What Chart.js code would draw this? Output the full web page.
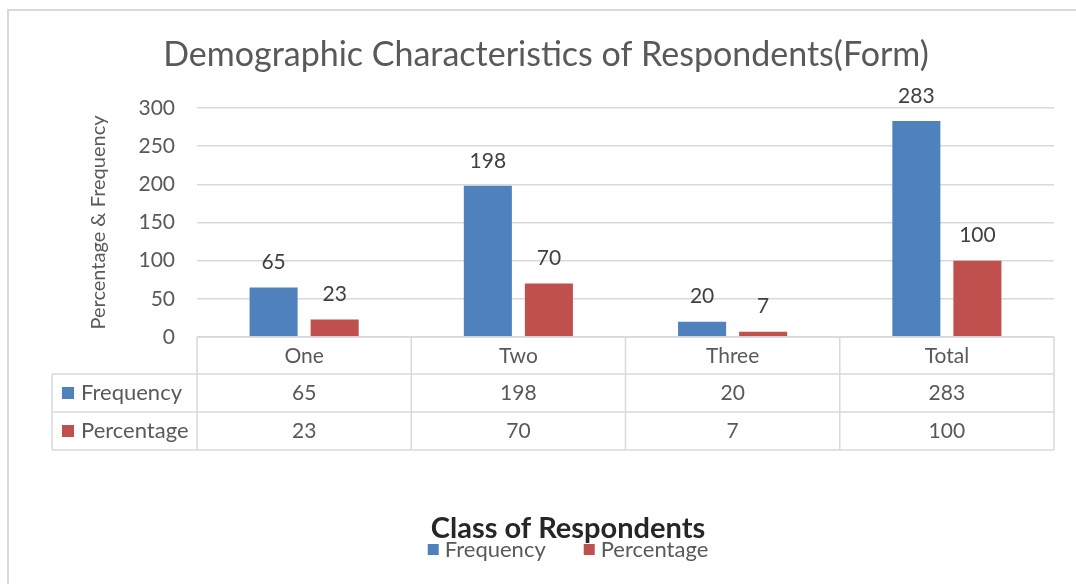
<!DOCTYPE html>
<html lang="en">
<head>
  <meta charset="UTF-8">
  <title>Demographic Characteristics of Respondents(Form)</title>
  <script src="https://cdn.jsdelivr.net/npm/chart.js"></script>
  <style>
    html, body { margin: 0; padding: 0; background: #fff; }
    canvas { display: block; }
  </style>
</head>
<body>

<canvas id="grafico" width="1076" height="584"></canvas>

<script>
  const categories = ["One", "Two", "Three", "Total"];
  const frequency = [65, 198, 20, 283];
  const percentage = [23, 70, 7, 100];
  const yTicks = [0, 50, 100, 150, 200, 250, 300];
  const chartTitle = "Demographic Characteristics of Respondents(Form)";
  const xTitle = "Class of Respondents";

  const fontFamily = "Lato, 'Open Sans', sans-serif";
  const textColor = "#595959";
  const lineColor = "#d9d9d9";

  // marco gris alrededor del grafico
  const marco = {
    id: "marco",
    beforeDraw(chart) {
      const ctx = chart.ctx;
      ctx.save();
      ctx.fillStyle = "#fff";
      ctx.fillRect(0, 0, chart.width, chart.height);
      ctx.strokeStyle = lineColor;
      ctx.lineWidth = 2;
      ctx.strokeRect(8, 10, chart.width + 20, chart.height + 20);
      ctx.restore();
    }
  };

  // valores encima de cada barra
  const etiquetas = {
    id: "etiquetas",
    afterDatasetsDraw(chart) {
      const ctx = chart.ctx;
      ctx.save();
      ctx.font = "21px " + fontFamily;
      ctx.fillStyle = "#404040";
      ctx.textAlign = "center";
      ctx.textBaseline = "middle";
      chart.data.datasets.forEach((ds, i) => {
        chart.getDatasetMeta(i).data.forEach((bar, j) => {
          ctx.fillText(ds.data[j], bar.x, bar.y - 25);
        });
      });
      ctx.restore();
    }
  };

  // tabla de datos debajo del eje x
  const tabla = {
    id: "tabla",
    afterDraw(chart) {
      const { ctx, chartArea, scales: { x } } = chart;
      const top = chartArea.bottom;
      const rows = [top, top + 37, top + 75, top + 113];
      const left = 52;

      const cols = [chartArea.left];
      for (let i = 0; i < categories.length - 1; i++) {
        cols.push((x.getPixelForValue(i) + x.getPixelForValue(i + 1)) / 2);
      }
      cols.push(chartArea.right);

      ctx.save();
      ctx.strokeStyle = lineColor;
      ctx.lineWidth = 1.5;
      ctx.beginPath();
      ctx.moveTo(chartArea.left, rows[0]);
      ctx.lineTo(chartArea.right, rows[0]);
      for (let r = 1; r < rows.length; r++) {
        ctx.moveTo(left, rows[r]);
        ctx.lineTo(chartArea.right, rows[r]);
      }
      ctx.moveTo(left, rows[1]);
      ctx.lineTo(left, rows[3]);
      cols.forEach(cx => {
        ctx.moveTo(cx, rows[0]);
        ctx.lineTo(cx, rows[3]);
      });
      ctx.stroke();

      ctx.textBaseline = "middle";
      chart.data.datasets.forEach((ds, i) => {
        const cy = (rows[i + 1] + rows[i + 2]) / 2;
        ctx.fillStyle = ds.backgroundColor;
        ctx.fillRect(left + 10, cy - 6, 12, 12);
        ctx.fillStyle = textColor;
        ctx.textAlign = "left";
        ctx.font = "22px " + fontFamily;
        ctx.fillText(ds.label, left + 29, cy);
        ctx.font = "21px " + fontFamily;
        ctx.textAlign = "center";
        ds.data.forEach((v, j) => {
          ctx.fillText(v, x.getPixelForValue(j), cy);
        });
      });
      ctx.restore();
    }
  };

  // titulos y leyenda, centrados en el marco como en Excel
  const textos = {
    id: "textos",
    afterDraw(chart) {
      const ctx = chart.ctx;
      ctx.save();
      ctx.textBaseline = "middle";
      ctx.textAlign = "center";
      ctx.font = "34px " + fontFamily;
      ctx.fillStyle = textColor;
      ctx.fillText(chartTitle, 546, 55);

      const centerX = 568;
      ctx.font = "bold 29px " + fontFamily;
      ctx.fillStyle = "#262626";
      ctx.fillText(xTitle, centerX, 529);

      ctx.font = "22px " + fontFamily;
      const items = chart.data.datasets.map(ds => ({ ds, w: ctx.measureText(ds.label).width }));
      const total = items.reduce((s, it) => s + 17 + it.w, 0) + 38 * (items.length - 1);
      let cx = centerX - total / 2;
      ctx.textAlign = "left";
      items.forEach(it => {
        ctx.fillStyle = it.ds.backgroundColor;
        ctx.fillRect(cx, 544, 11, 11);
        ctx.fillStyle = textColor;
        ctx.fillText(it.ds.label, cx + 17, 550);
        cx += 17 + it.w + 38;
      });
      ctx.restore();
    }
  };

  new Chart(document.getElementById("grafico"), {
    type: "bar",
    data: {
      labels: categories,
      datasets: [
        {
          label: "Frequency",
          data: frequency,
          backgroundColor: "#4F81BD",
          categoryPercentage: 0.57,
          barPercentage: 0.787
        },
        {
          label: "Percentage",
          data: percentage,
          backgroundColor: "#C0504D",
          categoryPercentage: 0.57,
          barPercentage: 0.787
        }
      ]
    },
    options: {
      responsive: false,
      animation: false,
      layout: { padding: { left: 7, right: 22, top: 108, bottom: 207 } },
      plugins: {
        title: { display: false },
        legend: { display: false },
        tooltip: { enabled: false }
      },
      scales: {
        x: {
          grid: { display: false, drawTicks: false },
          border: { display: false },
          ticks: { color: textColor, font: { family: fontFamily, size: 21 }, padding: 7 },
          afterFit: s => { s.height = 40; }
        },
        y: {
          min: 0,
          max: 300,
          afterBuildTicks: s => { s.ticks = yTicks.map(v => ({ value: v })); },
          afterFit: s => { s.width = 190; },
          ticks: { color: textColor, font: { family: fontFamily, size: 21 }, padding: 22 },
          grid: { color: lineColor, lineWidth: 1.5, drawTicks: false },
          border: { display: false },
          title: {
            display: true,
            text: "Percentage & Frequency",
            color: textColor,
            font: { family: fontFamily, size: 20 },
            padding: { top: 80 }
          }
        }
      }
    },
    plugins: [marco, etiquetas, tabla, textos]
  });
</script>

</body>
</html>
